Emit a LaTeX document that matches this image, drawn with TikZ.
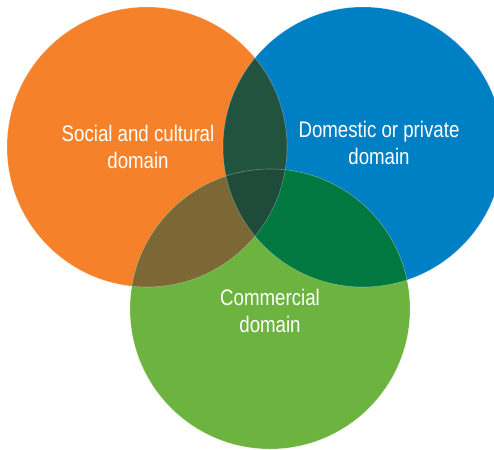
\documentclass[tikz,border=0pt]{standalone}
\usepackage{fontspec}
\newfontfamily\domainfont{Liberation Sans}[FakeStretch=0.83]
\usepackage{tikz}
\usetikzlibrary{positioning}

\definecolor{socialorange}{HTML}{F5822A}
\definecolor{domesticblue}{HTML}{0080C4}
\definecolor{commercegreen}{HTML}{6CB33F}
\definecolor{socdom}{HTML}{22533F}
\definecolor{soccom}{HTML}{7B6835}
\definecolor{domcom}{HTML}{007840}
\definecolor{allthree}{HTML}{1F4B3A}

\begin{document}
\begin{tikzpicture}[x=1pt, y=-1pt,
        domainlabel/.style={text=white, align=center, font=\domainfont\fontsize{22.5}{27}\selectfont},
        rim/.style={draw=white, draw opacity=0.3, line width=0.6pt}]
            \useasboundingbox (0,0) rectangle (494,449);

            \coordinate (S) at (147,147);
            \coordinate (D) at (363,147);
            \coordinate (C) at (270,309);

            \fill [socialorange] (S) circle [radius=140];
            \fill [domesticblue] (D) circle [radius=140];
            \fill [commercegreen] (C) circle [radius=140];

            % overlaps
            \begin{scope}
                \clip (S) circle [radius=140];
                \fill [socdom] (D) circle [radius=140];
                \fill [soccom] (C) circle [radius=140];
            \end{scope}
            \begin{scope}
                \clip (D) circle [radius=140];
                \fill [domcom] (C) circle [radius=140];
                \clip (C) circle [radius=140];
                \fill [allthree] (S) circle [radius=140];
            \end{scope}

            \draw [rim] (S) circle [radius=140];
            \draw [rim] (D) circle [radius=140];
            \draw [rim] (C) circle [radius=140];

            \node [domainlabel] (Stext) at (138,146.5) {Social and cultural\\domain};
            \node [domainlabel] (Dtext) at (379,143) {Domestic or private\\domain};
            \node [domainlabel] (Ctext) at (270,311) {Commercial\\domain};
        \end{tikzpicture}
\end{document}
